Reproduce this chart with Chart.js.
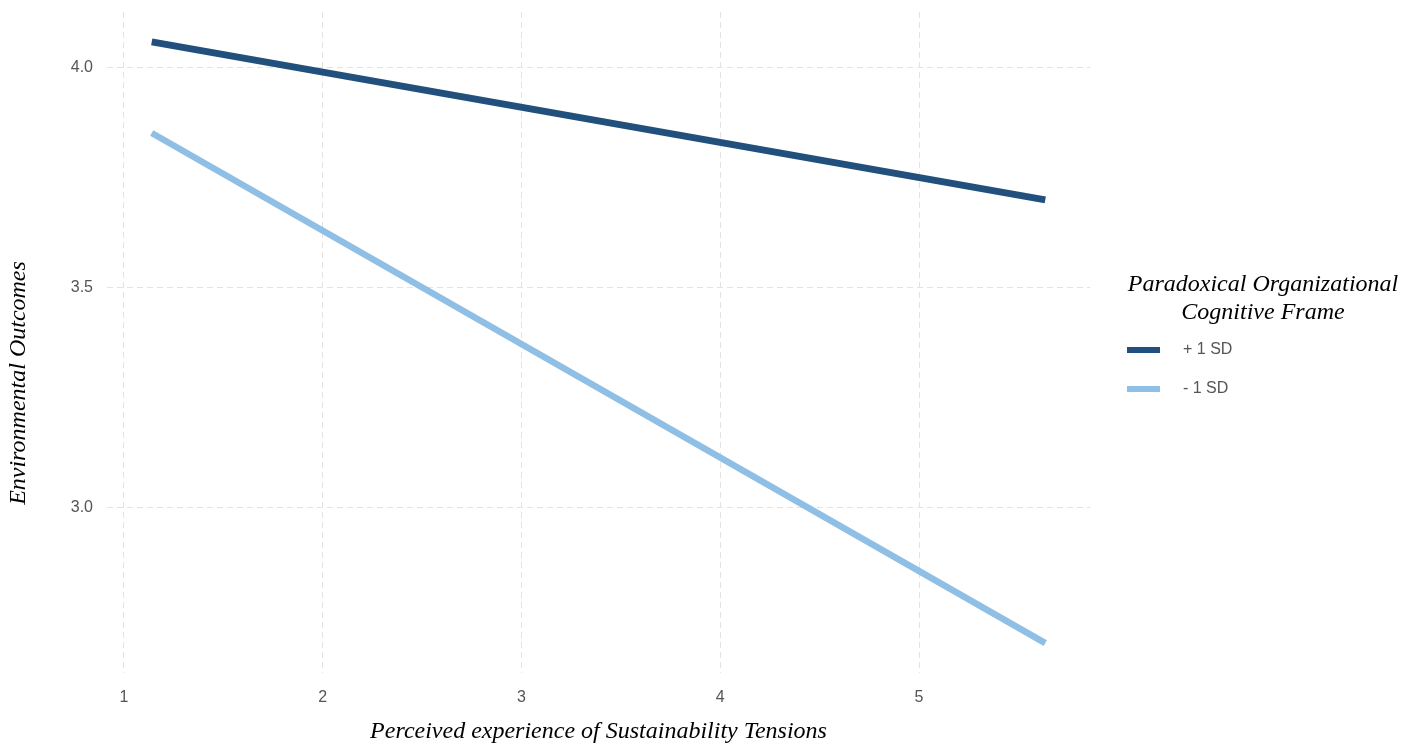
<!DOCTYPE html>
<html>
<head>
<meta charset="utf-8">
<script src="https://cdn.jsdelivr.net/npm/chart.js@4/dist/chart.umd.min.js"></script>
<style>
  html, body { margin: 0; padding: 0; background: #fff; }
  #wrap { width: 1419px; height: 749px; position: relative; }
</style>
</head>
<body>
<div id="wrap"><canvas id="slopeChart"></canvas></div>
<script>
// values
const tensionX = [1.14, 5.635];
const highFrame = [4.059, 3.700];
const lowFrame = [3.852, 2.693];
const seriesLabels = ["+ 1 SD", "- 1 SD"];
const xTicks = [1, 2, 3, 4, 5];
const yTicks = [3.0, 3.5, 4.0];

const darkBlue = "#22507d";
const lightBlue = "#8fbfe5";
const serif = "'Liberation Serif', 'Times New Roman', serif";
const sans = "'Liberation Sans', Arial, sans-serif";

function toPoints(ys) {
  return ys.map((y, i) => ({ x: tensionX[i], y }));
}

// legend on the right + rotated y title, drawn by hand
const sideLegend = {
  id: "sideLegend",
  afterDraw(chart) {
    const ctx = chart.ctx;
    ctx.save();
    ctx.fillStyle = "#000";
    ctx.font = "italic 24px " + serif;
    ctx.textAlign = "center";
    ctx.textBaseline = "middle";
    ctx.fillText("Paradoxical Organizational", 1263, 285);
    ctx.fillText("Cognitive Frame", 1263, 313);

    const rows = [350, 389];
    chart.data.datasets.forEach((ds, i) => {
      ctx.strokeStyle = ds.borderColor;
      ctx.lineWidth = 6;
      ctx.beginPath();
      ctx.moveTo(1127, rows[i]);
      ctx.lineTo(1160, rows[i]);
      ctx.stroke();
      ctx.fillStyle = "#555";
      ctx.font = "16px " + sans;
      ctx.textAlign = "left";
      ctx.fillText(ds.label, 1183, rows[i]);
    });

    ctx.translate(19, 383);
    ctx.rotate(-Math.PI / 2);
    ctx.fillStyle = "#000";
    ctx.font = "italic 24px " + serif;
    ctx.textAlign = "center";
    ctx.fillText("Environmental Outcomes", 0, 0);
    ctx.restore();
  }
};

new Chart(document.getElementById("slopeChart"), {
  type: "line",
  data: {
    datasets: [
      { label: seriesLabels[0], data: toPoints(highFrame), borderColor: darkBlue, borderWidth: 7 },
      { label: seriesLabels[1], data: toPoints(lowFrame), borderColor: lightBlue, borderWidth: 6.5 }
    ]
  },
  options: {
    responsive: true,
    maintainAspectRatio: false,
    animation: false,
    elements: { point: { radius: 0 }, line: { tension: 0, borderCapStyle: "butt" } },
    layout: { padding: { left: 0, right: 329, top: 12, bottom: 0 } },
    plugins: { legend: { display: false }, tooltip: { enabled: false } },
    scales: {
      x: {
        type: "linear",
        min: 0.915,
        max: 5.86,
        afterBuildTicks(scale) { scale.ticks = xTicks.map(v => ({ value: v })); },
        afterFit(scale) {
          scale.height = 76;
          scale.paddingLeft = 0;
          scale.paddingRight = 0;
        },
        border: { display: false, dash: [6, 4] },
        grid: { color: "#e3e3e3", drawTicks: false },
        ticks: { color: "#555", font: { family: sans, size: 16 }, padding: 15 },
        title: {
          display: true,
          text: "Perceived experience of Sustainability Tensions",
          color: "#000",
          font: { family: serif, size: 24, style: "italic" },
          padding: { top: 0, bottom: 3 }
        }
      },
      y: {
        min: 2.625,
        max: 4.127,
        afterBuildTicks(scale) { scale.ticks = yTicks.map(v => ({ value: v })); },
        afterFit(scale) {
          scale.width = 107;
          scale.paddingTop = 0;
          scale.paddingBottom = 0;
        },
        border: { display: false, dash: [6, 4] },
        grid: { color: "#e3e3e3", drawTicks: false },
        ticks: {
          color: "#555",
          font: { family: sans, size: 16 },
          padding: 14,
          callback: v => v.toFixed(1)
        }
      }
    }
  },
  plugins: [sideLegend]
});
</script>
</body>
</html>
